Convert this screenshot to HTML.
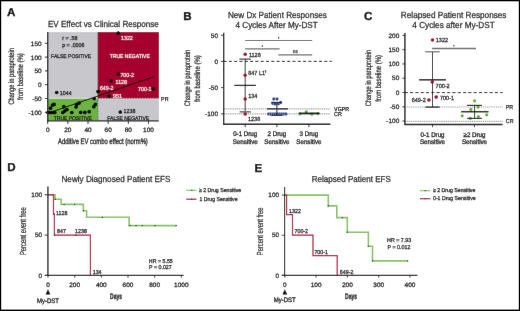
<!DOCTYPE html>
<html><head><meta charset="utf-8"><style>
html,body{margin:0;padding:0;background:#fff;width:520px;height:311px;overflow:hidden}
svg{display:block}
#w{will-change:transform}
text{font-family:"Liberation Sans", sans-serif;text-rendering:geometricPrecision}
</style></head><body>
<div id="w"><svg width="520" height="311" viewBox="0 0 520 311">
<defs><filter id="bl" x="0" y="0" width="520" height="311" filterUnits="userSpaceOnUse"><feConvolveMatrix order="3" kernelMatrix="0.0019 0.0439 0.0019 0.0439 1 0.0439 0.0019 0.0439 0.0019" edgeMode="duplicate" preserveAlpha="true"/></filter></defs>
<g filter="url(#bl)">
<rect x="0" y="0" width="520" height="311" fill="#fff"/>
<rect x="48.00" y="32.10" width="50.10" height="66.30" fill="#c8c8cc"/>
<rect x="98.10" y="32.10" width="60.80" height="66.30" fill="#a6002e"/>
<rect x="48.00" y="98.40" width="50.10" height="21.80" fill="#6cb443"/>
<rect x="98.10" y="98.40" width="60.80" height="21.80" fill="#c8c8cc"/>
<line x1="48.00" y1="98.40" x2="98.10" y2="98.40" stroke="#e2e8e8" stroke-width="0.7" stroke-linecap="butt"/>
<line x1="98.10" y1="99.10" x2="158.90" y2="99.10" stroke="#dde3e3" stroke-width="0.5" stroke-linecap="butt"/>
<line x1="98.10" y1="32.10" x2="98.10" y2="98.40" stroke="#5a0c1c" stroke-width="0.7" stroke-linecap="butt"/>
<line x1="98.10" y1="98.40" x2="98.10" y2="120.20" stroke="#333" stroke-width="0.6" stroke-linecap="butt" stroke-dasharray="0.8,0.8"/>
<line x1="98.10" y1="98.40" x2="158.90" y2="98.40" stroke="#3a0a14" stroke-width="0.6" stroke-linecap="butt" stroke-dasharray="0.8,0.8"/>
<line x1="47.50" y1="113.40" x2="153.40" y2="76.90" stroke="#000" stroke-width="0.9" stroke-linecap="butt"/>
<circle cx="118.20" cy="33.10" r="1.85" fill="#000"/>
<circle cx="118.30" cy="74.00" r="1.85" fill="#000"/>
<circle cx="111.20" cy="80.90" r="1.85" fill="#000"/>
<circle cx="98.00" cy="91.60" r="1.85" fill="#000"/>
<circle cx="109.10" cy="96.10" r="1.85" fill="#000"/>
<circle cx="153.40" cy="89.00" r="1.85" fill="#000"/>
<circle cx="56.70" cy="92.50" r="1.85" fill="#000"/>
<circle cx="120.30" cy="112.00" r="1.85" fill="#000"/>
<circle cx="47.80" cy="112.50" r="1.85" fill="#000"/>
<circle cx="49.60" cy="112.50" r="1.85" fill="#000"/>
<circle cx="51.40" cy="112.50" r="1.85" fill="#000"/>
<circle cx="53.20" cy="112.50" r="1.85" fill="#000"/>
<circle cx="54.80" cy="112.50" r="1.85" fill="#000"/>
<circle cx="50.50" cy="108.20" r="1.85" fill="#000"/>
<circle cx="52.50" cy="105.10" r="1.85" fill="#000"/>
<circle cx="54.10" cy="104.40" r="1.85" fill="#000"/>
<circle cx="63.80" cy="106.70" r="1.85" fill="#000"/>
<circle cx="67.00" cy="109.60" r="1.85" fill="#000"/>
<circle cx="62.80" cy="112.50" r="1.85" fill="#000"/>
<circle cx="64.60" cy="111.10" r="1.85" fill="#000"/>
<circle cx="71.80" cy="112.50" r="1.85" fill="#000"/>
<circle cx="76.00" cy="107.00" r="1.85" fill="#000"/>
<circle cx="76.70" cy="104.40" r="1.85" fill="#000"/>
<circle cx="79.20" cy="103.10" r="1.85" fill="#000"/>
<circle cx="80.70" cy="112.40" r="1.85" fill="#000"/>
<circle cx="84.80" cy="112.40" r="1.85" fill="#000"/>
<circle cx="89.20" cy="111.70" r="1.85" fill="#000"/>
<circle cx="94.20" cy="98.50" r="1.85" fill="#000"/>
<circle cx="95.40" cy="104.40" r="1.85" fill="#000"/>
<circle cx="93.80" cy="106.70" r="1.85" fill="#000"/>
<line x1="47.70" y1="32.00" x2="47.70" y2="121.40" stroke="#262626" stroke-width="1.4" stroke-linecap="butt"/>
<line x1="46.90" y1="120.80" x2="158.80" y2="120.80" stroke="#222" stroke-width="1.3" stroke-linecap="butt"/>
<line x1="44.90" y1="43.30" x2="47.40" y2="43.30" stroke="#262626" stroke-width="1.0" stroke-linecap="butt"/>
<text transform="translate(41.60,45.70) scale(1.1,1.08)" font-size="5.9" text-anchor="end" fill="#231f20" font-weight="normal"  stroke="#231f20" stroke-width="0.280">150</text>
<line x1="44.90" y1="57.10" x2="47.40" y2="57.10" stroke="#262626" stroke-width="1.0" stroke-linecap="butt"/>
<text transform="translate(41.60,59.50) scale(1.1,1.08)" font-size="5.9" text-anchor="end" fill="#231f20" font-weight="normal"  stroke="#231f20" stroke-width="0.280">100</text>
<line x1="44.90" y1="70.90" x2="47.40" y2="70.90" stroke="#262626" stroke-width="1.0" stroke-linecap="butt"/>
<text transform="translate(41.60,73.30) scale(1.1,1.08)" font-size="5.9" text-anchor="end" fill="#231f20" font-weight="normal"  stroke="#231f20" stroke-width="0.280">50</text>
<line x1="44.90" y1="84.70" x2="47.40" y2="84.70" stroke="#262626" stroke-width="1.0" stroke-linecap="butt"/>
<text transform="translate(41.60,87.10) scale(1.1,1.08)" font-size="5.9" text-anchor="end" fill="#231f20" font-weight="normal"  stroke="#231f20" stroke-width="0.280">0</text>
<line x1="44.90" y1="98.50" x2="47.40" y2="98.50" stroke="#262626" stroke-width="1.0" stroke-linecap="butt"/>
<text transform="translate(41.60,100.90) scale(1.1,1.08)" font-size="5.9" text-anchor="end" fill="#231f20" font-weight="normal"  stroke="#231f20" stroke-width="0.280">-50</text>
<line x1="44.90" y1="112.30" x2="47.40" y2="112.30" stroke="#262626" stroke-width="1.0" stroke-linecap="butt"/>
<text transform="translate(41.60,114.70) scale(1.1,1.08)" font-size="5.9" text-anchor="end" fill="#231f20" font-weight="normal"  stroke="#231f20" stroke-width="0.280">-100</text>
<line x1="47.70" y1="120.80" x2="47.70" y2="123.90" stroke="#222" stroke-width="1.0" stroke-linecap="butt"/>
<text transform="translate(47.70,132.30) scale(1.1,1.08)" font-size="5.9" text-anchor="middle" fill="#231f20" font-weight="normal"  stroke="#231f20" stroke-width="0.280">0</text>
<line x1="67.86" y1="120.80" x2="67.86" y2="123.90" stroke="#222" stroke-width="1.0" stroke-linecap="butt"/>
<text transform="translate(67.86,132.30) scale(1.1,1.08)" font-size="5.9" text-anchor="middle" fill="#231f20" font-weight="normal"  stroke="#231f20" stroke-width="0.280">20</text>
<line x1="88.02" y1="120.80" x2="88.02" y2="123.90" stroke="#222" stroke-width="1.0" stroke-linecap="butt"/>
<text transform="translate(88.02,132.30) scale(1.1,1.08)" font-size="5.9" text-anchor="middle" fill="#231f20" font-weight="normal"  stroke="#231f20" stroke-width="0.280">40</text>
<line x1="108.18" y1="120.80" x2="108.18" y2="123.90" stroke="#222" stroke-width="1.0" stroke-linecap="butt"/>
<text transform="translate(108.18,132.30) scale(1.1,1.08)" font-size="5.9" text-anchor="middle" fill="#231f20" font-weight="normal"  stroke="#231f20" stroke-width="0.280">60</text>
<line x1="128.34" y1="120.80" x2="128.34" y2="123.90" stroke="#222" stroke-width="1.0" stroke-linecap="butt"/>
<text transform="translate(128.34,132.30) scale(1.1,1.08)" font-size="5.9" text-anchor="middle" fill="#231f20" font-weight="normal"  stroke="#231f20" stroke-width="0.280">80</text>
<line x1="148.50" y1="120.80" x2="148.50" y2="123.90" stroke="#222" stroke-width="1.0" stroke-linecap="butt"/>
<text transform="translate(148.50,132.30) scale(1.1,1.08)" font-size="5.9" text-anchor="middle" fill="#231f20" font-weight="normal"  stroke="#231f20" stroke-width="0.280">100</text>
<text transform="translate(102.90,143.60) scale(0.785,1.08)" font-size="7.5" text-anchor="middle" fill="#231f20" font-weight="normal" stroke="#231f20" stroke-width="0.35">Additive EV combo effect (norm%)</text>
<text transform="translate(13.80,76.35) rotate(-90) scale(0.714,1.0)" font-size="8.0" text-anchor="middle" fill="#231f20" font-weight="normal" stroke="#231f20" stroke-width="0.25">Change in paraprotein</text>
<text transform="translate(23.00,76.55) rotate(-90) scale(0.747,1.0)" font-size="8.0" text-anchor="middle" fill="#231f20" font-weight="normal" stroke="#231f20" stroke-width="0.25">from baseline (%)</text>
<text transform="translate(47.90,27.00) scale(1.0,1.08)" font-size="8.1" text-anchor="start" fill="#231f20" font-weight="normal"  stroke="#231f20" stroke-width="0.250">EV Effect vs Clinical Response</text>
<text transform="translate(6.90,16.40) scale(1.0,1.0)" font-size="11.6" text-anchor="start" fill="#000" font-weight="bold" stroke="#000" stroke-width="0.3">A</text>
<text transform="translate(62.20,39.90) scale(1.0,1.08)" font-size="5.3" text-anchor="start" fill="#231f20" font-weight="normal"  stroke="#231f20" stroke-width="0.280">r = .58</text>
<text transform="translate(62.20,46.50) scale(1.0,1.08)" font-size="5.3" text-anchor="start" fill="#231f20" font-weight="normal"  stroke="#231f20" stroke-width="0.280">p = .0006</text>
<text transform="translate(71.10,57.60) scale(1.0,1.08)" font-size="5.0" text-anchor="middle" fill="#231f20" font-weight="normal"  stroke="#231f20" stroke-width="0.280">FALSE POSITIVE</text>
<text transform="translate(129.80,57.70) scale(1.0,1.08)" font-size="5.0" text-anchor="middle" fill="#fff" font-weight="normal"  stroke="#fff" stroke-width="0.180">TRUE NEGATIVE</text>
<text transform="translate(72.80,119.90) scale(1.0,1.08)" font-size="5.0" text-anchor="middle" fill="#231f20" font-weight="normal"  stroke="#231f20" stroke-width="0.280">TRUE POSITIVE</text>
<text transform="translate(128.20,119.90) scale(1.0,1.08)" font-size="5.0" text-anchor="middle" fill="#231f20" font-weight="normal"  stroke="#231f20" stroke-width="0.280">FALSE NEGATIVE</text>
<text transform="translate(161.10,100.90) scale(1.0,1.08)" font-size="5.3" text-anchor="start" fill="#231f20" font-weight="normal"  stroke="#231f20" stroke-width="0.280">PR</text>
<text transform="translate(121.00,39.60) scale(1.0,1.08)" font-size="5.3" text-anchor="start" fill="#fff" font-weight="normal"  stroke="#fff" stroke-width="0.180">1322</text>
<text transform="translate(120.40,76.50) scale(1.0,1.08)" font-size="5.3" text-anchor="start" fill="#fff" font-weight="normal"  stroke="#fff" stroke-width="0.180">700-2</text>
<text transform="translate(115.60,83.80) scale(1.0,1.08)" font-size="5.3" text-anchor="start" fill="#fff" font-weight="normal"  stroke="#fff" stroke-width="0.180">1128</text>
<text transform="translate(99.90,90.00) scale(1.0,1.08)" font-size="5.3" text-anchor="start" fill="#fff" font-weight="normal"  stroke="#fff" stroke-width="0.180">649-2</text>
<text transform="translate(113.00,98.30) scale(1.0,1.08)" font-size="5.3" text-anchor="start" fill="#fff" font-weight="normal"  stroke="#fff" stroke-width="0.180">951</text>
<text transform="translate(138.00,91.30) scale(1.0,1.08)" font-size="5.3" text-anchor="start" fill="#fff" font-weight="normal"  stroke="#fff" stroke-width="0.180">700-1</text>
<text transform="translate(59.80,95.30) scale(1.0,1.08)" font-size="5.3" text-anchor="start" fill="#231f20" font-weight="normal"  stroke="#231f20" stroke-width="0.280">1044</text>
<text transform="translate(123.60,113.30) scale(1.0,1.08)" font-size="5.3" text-anchor="start" fill="#231f20" font-weight="normal"  stroke="#231f20" stroke-width="0.280">1238</text>
<text transform="translate(183.30,20.00) scale(1.0,1.0)" font-size="11.6" text-anchor="start" fill="#000" font-weight="bold" stroke="#000" stroke-width="0.3">B</text>
<text transform="translate(277.35,17.60) scale(1.0,1.08)" font-size="8.15" text-anchor="middle" fill="#231f20" font-weight="normal"  stroke="#231f20" stroke-width="0.250">New Dx Patient Responses</text>
<text transform="translate(276.60,27.50) scale(1.0,1.08)" font-size="8.15" text-anchor="middle" fill="#231f20" font-weight="normal"  stroke="#231f20" stroke-width="0.250">4 Cycles After My-DST</text>
<text transform="translate(189.80,78.00) rotate(-90) scale(0.714,1.0)" font-size="8.0" text-anchor="middle" fill="#231f20" font-weight="normal" stroke="#231f20" stroke-width="0.25">Change in paraprotein</text>
<text transform="translate(199.80,78.70) rotate(-90) scale(0.747,1.0)" font-size="8.0" text-anchor="middle" fill="#231f20" font-weight="normal" stroke="#231f20" stroke-width="0.25">from baseline (%)</text>
<line x1="224.00" y1="108.90" x2="330.20" y2="108.90" stroke="#a0a0a0" stroke-width="1.1" stroke-linecap="butt" stroke-dasharray="1.1,0.75"/>
<line x1="224.00" y1="113.90" x2="330.20" y2="113.90" stroke="#a0a0a0" stroke-width="1.1" stroke-linecap="butt" stroke-dasharray="1.1,0.75"/>
<line x1="223.60" y1="61.35" x2="331.80" y2="61.35" stroke="#111" stroke-width="1.0" stroke-linecap="butt" stroke-dasharray="3.0,2.3"/>
<text transform="translate(334.10,110.70) scale(1.0,1.08)" font-size="5.3" text-anchor="start" fill="#231f20" font-weight="normal"  stroke="#231f20" stroke-width="0.280">VGPR</text>
<text transform="translate(334.10,116.10) scale(1.0,1.08)" font-size="5.3" text-anchor="start" fill="#231f20" font-weight="normal"  stroke="#231f20" stroke-width="0.280">CR</text>
<line x1="245.10" y1="40.50" x2="312.20" y2="40.50" stroke="#6d6e71" stroke-width="1.2" stroke-linecap="butt"/>
<line x1="245.10" y1="48.80" x2="279.60" y2="48.80" stroke="#6d6e71" stroke-width="1.2" stroke-linecap="butt"/>
<line x1="278.30" y1="54.90" x2="312.20" y2="54.90" stroke="#6d6e71" stroke-width="1.2" stroke-linecap="butt"/>
<circle cx="278.65" cy="37.90" r="0.8" fill="#333"/>
<circle cx="262.40" cy="46.10" r="0.8" fill="#333"/>
<text transform="translate(295.40,52.60) scale(1.0,1.08)" font-size="4.8" text-anchor="middle" fill="#444" font-weight="normal"  stroke="#444" stroke-width="0.280">ns</text>
<line x1="245.20" y1="59.10" x2="245.20" y2="111.60" stroke="#262626" stroke-width="0.9" stroke-linecap="butt"/>
<line x1="239.40" y1="59.10" x2="250.80" y2="59.10" stroke="#262626" stroke-width="1.1" stroke-linecap="butt"/>
<line x1="234.30" y1="85.40" x2="255.90" y2="85.40" stroke="#111" stroke-width="1.3" stroke-linecap="butt"/>
<line x1="239.60" y1="111.85" x2="250.80" y2="111.85" stroke="#6a6a6a" stroke-width="1.5" stroke-linecap="butt"/>
<circle cx="245.20" cy="54.20" r="1.8" fill="#9e0a26"/>
<circle cx="245.20" cy="75.20" r="1.8" fill="#9e0a26"/>
<circle cx="245.20" cy="99.00" r="1.8" fill="#9e0a26"/>
<circle cx="245.20" cy="114.00" r="1.8" fill="#9e0a26"/>
<text transform="translate(248.90,56.90) scale(1.0,1.08)" font-size="5.5" text-anchor="start" fill="#231f20" font-weight="normal"  stroke="#231f20" stroke-width="0.280">1128</text>
<text transform="translate(248.20,75.00) scale(1.0,1.08)" font-size="5.5" text-anchor="start" fill="#231f20" font-weight="normal"  stroke="#231f20" stroke-width="0.280">847 L1</text>
<text transform="translate(264.40,72.60) scale(1.0,1.08)" font-size="3.6" text-anchor="start" fill="#231f20" font-weight="normal"  stroke="#231f20" stroke-width="0.280">†</text>
<text transform="translate(248.20,98.00) scale(1.0,1.08)" font-size="5.5" text-anchor="start" fill="#231f20" font-weight="normal"  stroke="#231f20" stroke-width="0.280">134</text>
<text transform="translate(248.00,121.00) scale(1.0,1.08)" font-size="5.5" text-anchor="start" fill="#231f20" font-weight="normal"  stroke="#231f20" stroke-width="0.280">1238</text>
<circle cx="268.60" cy="113.90" r="1.75" fill="#1a3f8f" stroke="#fff" stroke-width="0.35"/>
<circle cx="270.80" cy="113.90" r="1.75" fill="#1a3f8f" stroke="#fff" stroke-width="0.35"/>
<circle cx="273.00" cy="113.90" r="1.75" fill="#1a3f8f" stroke="#fff" stroke-width="0.35"/>
<circle cx="275.10" cy="113.90" r="1.75" fill="#1a3f8f" stroke="#fff" stroke-width="0.35"/>
<circle cx="277.30" cy="113.90" r="1.75" fill="#1a3f8f" stroke="#fff" stroke-width="0.35"/>
<circle cx="279.50" cy="113.90" r="1.75" fill="#1a3f8f" stroke="#fff" stroke-width="0.35"/>
<circle cx="281.60" cy="113.90" r="1.75" fill="#1a3f8f" stroke="#fff" stroke-width="0.35"/>
<circle cx="283.80" cy="113.90" r="1.75" fill="#1a3f8f" stroke="#fff" stroke-width="0.35"/>
<circle cx="285.90" cy="113.90" r="1.75" fill="#1a3f8f" stroke="#fff" stroke-width="0.35"/>
<circle cx="273.80" cy="99.00" r="1.75" fill="#1a3f8f" stroke="#fff" stroke-width="0.35"/>
<circle cx="277.00" cy="99.00" r="1.75" fill="#1a3f8f" stroke="#fff" stroke-width="0.35"/>
<circle cx="272.90" cy="103.40" r="1.75" fill="#1a3f8f" stroke="#fff" stroke-width="0.35"/>
<circle cx="275.10" cy="104.00" r="1.75" fill="#1a3f8f" stroke="#fff" stroke-width="0.35"/>
<circle cx="278.50" cy="103.80" r="1.75" fill="#1a3f8f" stroke="#fff" stroke-width="0.35"/>
<circle cx="280.60" cy="102.60" r="1.75" fill="#1a3f8f" stroke="#fff" stroke-width="0.35"/>
<line x1="276.90" y1="102.40" x2="276.90" y2="115.40" stroke="#222" stroke-width="1.0" stroke-linecap="butt"/>
<line x1="271.20" y1="115.40" x2="282.60" y2="115.40" stroke="#111" stroke-width="1.0" stroke-linecap="butt"/>
<line x1="271.20" y1="102.40" x2="282.00" y2="102.40" stroke="#111" stroke-width="1.1" stroke-linecap="butt"/>
<line x1="267.00" y1="108.80" x2="287.90" y2="108.80" stroke="#3c3c3c" stroke-width="1.6" stroke-linecap="butt"/>
<circle cx="299.90" cy="113.90" r="1.6" fill="#5cb531"/>
<circle cx="306.20" cy="111.90" r="1.6" fill="#5cb531"/>
<circle cx="311.90" cy="114.20" r="1.6" fill="#5cb531"/>
<circle cx="317.90" cy="113.60" r="1.6" fill="#5cb531"/>
<line x1="299.00" y1="113.40" x2="319.50" y2="113.40" stroke="#111" stroke-width="1.7" stroke-linecap="butt"/>
<line x1="223.70" y1="32.80" x2="223.70" y2="124.90" stroke="#1a1a1a" stroke-width="1.3" stroke-linecap="butt"/>
<line x1="223.10" y1="124.30" x2="330.40" y2="124.30" stroke="#111" stroke-width="1.4" stroke-linecap="butt"/>
<line x1="221.00" y1="35.21" x2="223.60" y2="35.21" stroke="#231f20" stroke-width="0.9" stroke-linecap="butt"/>
<text transform="translate(218.00,37.61) scale(1.1,1.08)" font-size="5.9" text-anchor="end" fill="#231f20" font-weight="normal"  stroke="#231f20" stroke-width="0.280">50</text>
<line x1="221.00" y1="61.42" x2="223.60" y2="61.42" stroke="#231f20" stroke-width="0.9" stroke-linecap="butt"/>
<text transform="translate(218.00,63.82) scale(1.1,1.08)" font-size="5.9" text-anchor="end" fill="#231f20" font-weight="normal"  stroke="#231f20" stroke-width="0.280">0</text>
<line x1="221.00" y1="87.63" x2="223.60" y2="87.63" stroke="#231f20" stroke-width="0.9" stroke-linecap="butt"/>
<text transform="translate(218.00,90.03) scale(1.1,1.08)" font-size="5.9" text-anchor="end" fill="#231f20" font-weight="normal"  stroke="#231f20" stroke-width="0.280">-50</text>
<line x1="221.00" y1="113.84" x2="223.60" y2="113.84" stroke="#231f20" stroke-width="0.9" stroke-linecap="butt"/>
<text transform="translate(218.00,116.24) scale(1.1,1.08)" font-size="5.9" text-anchor="end" fill="#231f20" font-weight="normal"  stroke="#231f20" stroke-width="0.280">-100</text>
<line x1="245.20" y1="124.20" x2="245.20" y2="127.20" stroke="#231f20" stroke-width="0.9" stroke-linecap="butt"/>
<text transform="translate(245.20,136.40) scale(1.0,1.08)" font-size="6.2" text-anchor="middle" fill="#231f20" font-weight="normal"  stroke="#231f20" stroke-width="0.320">0-1 Drug</text>
<text transform="translate(245.20,144.00) scale(1.0,1.08)" font-size="6.2" text-anchor="middle" fill="#231f20" font-weight="normal"  stroke="#231f20" stroke-width="0.320">Sensitive</text>
<line x1="276.90" y1="124.20" x2="276.90" y2="127.20" stroke="#231f20" stroke-width="0.9" stroke-linecap="butt"/>
<text transform="translate(276.90,136.40) scale(1.0,1.08)" font-size="6.2" text-anchor="middle" fill="#231f20" font-weight="normal"  stroke="#231f20" stroke-width="0.320">2 Drug</text>
<text transform="translate(276.90,144.00) scale(1.0,1.08)" font-size="6.2" text-anchor="middle" fill="#231f20" font-weight="normal"  stroke="#231f20" stroke-width="0.320">Sensitive</text>
<line x1="308.90" y1="124.20" x2="308.90" y2="127.20" stroke="#231f20" stroke-width="0.9" stroke-linecap="butt"/>
<text transform="translate(308.90,136.40) scale(1.0,1.08)" font-size="6.2" text-anchor="middle" fill="#231f20" font-weight="normal"  stroke="#231f20" stroke-width="0.320">3 Drug</text>
<text transform="translate(308.90,144.00) scale(1.0,1.08)" font-size="6.2" text-anchor="middle" fill="#231f20" font-weight="normal"  stroke="#231f20" stroke-width="0.320">Sensitive</text>
<text transform="translate(364.00,20.00) scale(1.0,1.0)" font-size="11.6" text-anchor="start" fill="#000" font-weight="bold" stroke="#000" stroke-width="0.3">C</text>
<text transform="translate(453.65,17.60) scale(1.0,1.08)" font-size="8.2" text-anchor="middle" fill="#231f20" font-weight="normal"  stroke="#231f20" stroke-width="0.250">Relapsed Patient Responses</text>
<text transform="translate(453.50,27.80) scale(1.0,1.08)" font-size="8.2" text-anchor="middle" fill="#231f20" font-weight="normal"  stroke="#231f20" stroke-width="0.250">4 Cycles after My-DST</text>
<text transform="translate(370.55,78.10) rotate(-90) scale(0.714,1.0)" font-size="8.0" text-anchor="middle" fill="#231f20" font-weight="normal" stroke="#231f20" stroke-width="0.25">Change in paraprotein</text>
<text transform="translate(380.60,78.40) rotate(-90) scale(0.747,1.0)" font-size="8.0" text-anchor="middle" fill="#231f20" font-weight="normal" stroke="#231f20" stroke-width="0.25">from baseline (%)</text>
<line x1="405.30" y1="107.00" x2="502.90" y2="107.00" stroke="#a0a0a0" stroke-width="1.1" stroke-linecap="butt" stroke-dasharray="1.1,0.75"/>
<line x1="405.30" y1="121.40" x2="502.90" y2="121.40" stroke="#a0a0a0" stroke-width="1.1" stroke-linecap="butt" stroke-dasharray="1.1,0.75"/>
<line x1="404.80" y1="92.60" x2="502.70" y2="92.60" stroke="#111" stroke-width="1.0" stroke-linecap="butt" stroke-dasharray="3.0,2.3"/>
<text transform="translate(505.80,109.00) scale(1.0,1.08)" font-size="5.3" text-anchor="start" fill="#231f20" font-weight="normal"  stroke="#231f20" stroke-width="0.280">PR</text>
<text transform="translate(505.80,123.40) scale(1.0,1.08)" font-size="5.3" text-anchor="start" fill="#231f20" font-weight="normal"  stroke="#231f20" stroke-width="0.280">CR</text>
<line x1="432.10" y1="48.50" x2="476.00" y2="48.50" stroke="#6d6e71" stroke-width="1.3" stroke-linecap="butt"/>
<circle cx="453.80" cy="45.70" r="0.8" fill="#333"/>
<line x1="432.50" y1="51.80" x2="432.50" y2="107.10" stroke="#111" stroke-width="0.9" stroke-linecap="butt"/>
<line x1="425.20" y1="51.80" x2="439.80" y2="51.80" stroke="#666" stroke-width="1.2" stroke-linecap="butt"/>
<line x1="419.10" y1="79.80" x2="446.00" y2="79.80" stroke="#222" stroke-width="1.5" stroke-linecap="butt"/>
<line x1="425.50" y1="107.10" x2="439.60" y2="107.10" stroke="#111" stroke-width="1.2" stroke-linecap="butt"/>
<circle cx="432.50" cy="40.00" r="1.8" fill="#9e0a26"/>
<circle cx="432.30" cy="81.90" r="1.8" fill="#9e0a26"/>
<circle cx="436.20" cy="97.10" r="1.8" fill="#9e0a26"/>
<circle cx="428.90" cy="100.00" r="1.8" fill="#9e0a26"/>
<text transform="translate(435.80,41.90) scale(1.0,1.08)" font-size="5.5" text-anchor="start" fill="#231f20" font-weight="normal"  stroke="#231f20" stroke-width="0.280">1322</text>
<text transform="translate(435.60,88.10) scale(1.0,1.08)" font-size="5.5" text-anchor="start" fill="#231f20" font-weight="normal"  stroke="#231f20" stroke-width="0.280">700-2</text>
<text transform="translate(440.00,99.80) scale(1.0,1.08)" font-size="5.5" text-anchor="start" fill="#231f20" font-weight="normal"  stroke="#231f20" stroke-width="0.280">700-1</text>
<text transform="translate(425.80,102.10) scale(1.0,1.08)" font-size="5.5" text-anchor="end" fill="#231f20" font-weight="normal"  stroke="#231f20" stroke-width="0.280">649-2</text>
<circle cx="474.60" cy="100.80" r="1.6" fill="#5cb531"/>
<circle cx="478.10" cy="107.10" r="1.6" fill="#5cb531"/>
<circle cx="470.90" cy="109.40" r="1.6" fill="#5cb531"/>
<circle cx="462.20" cy="115.80" r="1.6" fill="#5cb531"/>
<circle cx="486.70" cy="114.80" r="1.6" fill="#5cb531"/>
<circle cx="478.40" cy="116.60" r="1.6" fill="#5cb531"/>
<circle cx="470.30" cy="118.40" r="1.6" fill="#5cb531"/>
<line x1="474.60" y1="105.40" x2="474.60" y2="118.40" stroke="#111" stroke-width="0.9" stroke-linecap="butt"/>
<line x1="467.10" y1="105.40" x2="481.90" y2="105.40" stroke="#222" stroke-width="1.2" stroke-linecap="butt"/>
<line x1="461.00" y1="111.70" x2="488.50" y2="111.70" stroke="#222" stroke-width="1.5" stroke-linecap="butt"/>
<line x1="467.10" y1="118.40" x2="481.90" y2="118.40" stroke="#222" stroke-width="1.2" stroke-linecap="butt"/>
<line x1="404.90" y1="33.10" x2="404.90" y2="125.10" stroke="#111" stroke-width="1.35" stroke-linecap="butt"/>
<line x1="404.30" y1="124.50" x2="502.50" y2="124.50" stroke="#111" stroke-width="1.4" stroke-linecap="butt"/>
<line x1="402.40" y1="35.40" x2="404.80" y2="35.40" stroke="#231f20" stroke-width="0.9" stroke-linecap="butt"/>
<text transform="translate(399.30,37.50) scale(1.1,1.08)" font-size="5.9" text-anchor="end" fill="#231f20" font-weight="normal"  stroke="#231f20" stroke-width="0.280">200</text>
<line x1="402.40" y1="49.68" x2="404.80" y2="49.68" stroke="#231f20" stroke-width="0.9" stroke-linecap="butt"/>
<text transform="translate(399.30,51.78) scale(1.1,1.08)" font-size="5.9" text-anchor="end" fill="#231f20" font-weight="normal"  stroke="#231f20" stroke-width="0.280">150</text>
<line x1="402.40" y1="63.95" x2="404.80" y2="63.95" stroke="#231f20" stroke-width="0.9" stroke-linecap="butt"/>
<text transform="translate(399.30,66.05) scale(1.1,1.08)" font-size="5.9" text-anchor="end" fill="#231f20" font-weight="normal"  stroke="#231f20" stroke-width="0.280">100</text>
<line x1="402.40" y1="78.22" x2="404.80" y2="78.22" stroke="#231f20" stroke-width="0.9" stroke-linecap="butt"/>
<text transform="translate(399.30,80.32) scale(1.1,1.08)" font-size="5.9" text-anchor="end" fill="#231f20" font-weight="normal"  stroke="#231f20" stroke-width="0.280">50</text>
<line x1="402.40" y1="92.50" x2="404.80" y2="92.50" stroke="#231f20" stroke-width="0.9" stroke-linecap="butt"/>
<text transform="translate(399.30,94.60) scale(1.1,1.08)" font-size="5.9" text-anchor="end" fill="#231f20" font-weight="normal"  stroke="#231f20" stroke-width="0.280">0</text>
<line x1="402.40" y1="106.78" x2="404.80" y2="106.78" stroke="#231f20" stroke-width="0.9" stroke-linecap="butt"/>
<text transform="translate(399.30,108.88) scale(1.1,1.08)" font-size="5.9" text-anchor="end" fill="#231f20" font-weight="normal"  stroke="#231f20" stroke-width="0.280">-50</text>
<line x1="402.40" y1="121.05" x2="404.80" y2="121.05" stroke="#231f20" stroke-width="0.9" stroke-linecap="butt"/>
<text transform="translate(399.30,123.15) scale(1.1,1.08)" font-size="5.9" text-anchor="end" fill="#231f20" font-weight="normal"  stroke="#231f20" stroke-width="0.280">-100</text>
<line x1="432.50" y1="124.50" x2="432.50" y2="127.20" stroke="#231f20" stroke-width="0.9" stroke-linecap="butt"/>
<text transform="translate(432.50,136.80) scale(1.0,1.08)" font-size="6.2" text-anchor="middle" fill="#231f20" font-weight="normal"  stroke="#231f20" stroke-width="0.320">0-1 Drug</text>
<text transform="translate(432.50,144.00) scale(1.0,1.08)" font-size="6.2" text-anchor="middle" fill="#231f20" font-weight="normal"  stroke="#231f20" stroke-width="0.320">Sensitive</text>
<line x1="474.50" y1="124.50" x2="474.50" y2="127.20" stroke="#231f20" stroke-width="0.9" stroke-linecap="butt"/>
<text transform="translate(474.50,136.80) scale(1.0,1.08)" font-size="6.2" text-anchor="middle" fill="#231f20" font-weight="normal"  stroke="#231f20" stroke-width="0.320">≥2 Drug</text>
<text transform="translate(474.50,144.00) scale(1.0,1.08)" font-size="6.2" text-anchor="middle" fill="#231f20" font-weight="normal"  stroke="#231f20" stroke-width="0.320">Sensitive</text>
<text transform="translate(7.30,171.20) scale(1.0,1.0)" font-size="11.6" text-anchor="start" fill="#000" font-weight="bold" stroke="#000" stroke-width="0.3">D</text>
<text transform="translate(61.50,181.50) scale(1.0,1.08)" font-size="8.15" text-anchor="start" fill="#231f20" font-weight="normal"  stroke="#231f20" stroke-width="0.250">Newly Diagnosed Patient EFS</text>
<text transform="translate(25.60,231.20) rotate(-90) scale(0.73,1.1)" font-size="8.0" text-anchor="middle" fill="#231f20" font-weight="normal" stroke="#231f20" stroke-width="0.25">Percent event free</text>
<polyline points="48.00,194.80 55.00,194.80 55.00,199.30 61.20,199.30 61.20,204.40 83.40,204.40 83.40,210.80 86.60,210.80 86.60,217.30 129.10,217.30 129.10,225.60 176.50,225.60" fill="none" stroke="#86c466" stroke-width="1.6" stroke-linejoin="miter" stroke-linecap="butt"/>
<polyline points="48.00,194.80 53.50,194.80 53.50,214.20 54.40,214.20 54.40,235.10 90.40,235.10 90.40,275.40" fill="none" stroke="#b3143f" stroke-width="1.2" stroke-linejoin="miter" stroke-linecap="butt"/>
<line x1="63.50" y1="204.40" x2="64.70" y2="204.40" stroke="#000" stroke-width="1.0" stroke-linecap="butt"/>
<line x1="73.90" y1="204.40" x2="75.10" y2="204.40" stroke="#000" stroke-width="1.0" stroke-linecap="butt"/>
<line x1="82.80" y1="210.80" x2="84.00" y2="210.80" stroke="#000" stroke-width="1.0" stroke-linecap="butt"/>
<line x1="101.80" y1="217.30" x2="103.00" y2="217.30" stroke="#000" stroke-width="1.0" stroke-linecap="butt"/>
<line x1="129.20" y1="225.60" x2="130.40" y2="225.60" stroke="#000" stroke-width="1.0" stroke-linecap="butt"/>
<line x1="135.40" y1="225.60" x2="136.60" y2="225.60" stroke="#000" stroke-width="1.0" stroke-linecap="butt"/>
<line x1="141.80" y1="225.60" x2="143.00" y2="225.60" stroke="#000" stroke-width="1.0" stroke-linecap="butt"/>
<line x1="154.40" y1="225.60" x2="155.60" y2="225.60" stroke="#000" stroke-width="1.0" stroke-linecap="butt"/>
<line x1="175.60" y1="225.60" x2="176.80" y2="225.60" stroke="#000" stroke-width="1.0" stroke-linecap="butt"/>
<line x1="54.90" y1="199.30" x2="56.10" y2="199.30" stroke="#000" stroke-width="1.0" stroke-linecap="butt"/>
<line x1="53.00" y1="214.20" x2="54.20" y2="214.20" stroke="#000" stroke-width="1.0" stroke-linecap="butt"/>
<line x1="75.50" y1="235.10" x2="76.70" y2="235.10" stroke="#000" stroke-width="1.0" stroke-linecap="butt"/>
<line x1="54.00" y1="235.10" x2="55.20" y2="235.10" stroke="#000" stroke-width="1.0" stroke-linecap="butt"/>
<line x1="47.90" y1="186.50" x2="47.90" y2="275.40" stroke="#3a3a3a" stroke-width="1.5" stroke-linecap="butt"/>
<line x1="45.00" y1="275.40" x2="183.60" y2="275.40" stroke="#231f20" stroke-width="1.2" stroke-linecap="butt"/>
<line x1="44.60" y1="194.80" x2="48.00" y2="194.80" stroke="#231f20" stroke-width="0.9" stroke-linecap="butt"/>
<text transform="translate(42.10,196.90) scale(1.1,1.08)" font-size="5.9" text-anchor="end" fill="#231f20" font-weight="normal"  stroke="#231f20" stroke-width="0.280">100</text>
<line x1="44.60" y1="235.10" x2="48.00" y2="235.10" stroke="#231f20" stroke-width="0.9" stroke-linecap="butt"/>
<text transform="translate(42.10,237.20) scale(1.1,1.08)" font-size="5.9" text-anchor="end" fill="#231f20" font-weight="normal"  stroke="#231f20" stroke-width="0.280">50</text>
<line x1="44.60" y1="275.40" x2="48.00" y2="275.40" stroke="#231f20" stroke-width="0.9" stroke-linecap="butt"/>
<text transform="translate(42.10,277.50) scale(1.1,1.08)" font-size="5.9" text-anchor="end" fill="#231f20" font-weight="normal"  stroke="#231f20" stroke-width="0.280">0</text>
<line x1="48.00" y1="275.40" x2="48.00" y2="277.60" stroke="#231f20" stroke-width="0.9" stroke-linecap="butt"/>
<text transform="translate(48.00,287.40) scale(1.1,1.08)" font-size="5.9" text-anchor="middle" fill="#231f20" font-weight="normal"  stroke="#231f20" stroke-width="0.280">0</text>
<line x1="74.66" y1="275.40" x2="74.66" y2="277.60" stroke="#231f20" stroke-width="0.9" stroke-linecap="butt"/>
<text transform="translate(74.66,287.40) scale(1.1,1.08)" font-size="5.9" text-anchor="middle" fill="#231f20" font-weight="normal"  stroke="#231f20" stroke-width="0.280">200</text>
<line x1="101.32" y1="275.40" x2="101.32" y2="277.60" stroke="#231f20" stroke-width="0.9" stroke-linecap="butt"/>
<text transform="translate(101.32,287.40) scale(1.1,1.08)" font-size="5.9" text-anchor="middle" fill="#231f20" font-weight="normal"  stroke="#231f20" stroke-width="0.280">400</text>
<line x1="127.98" y1="275.40" x2="127.98" y2="277.60" stroke="#231f20" stroke-width="0.9" stroke-linecap="butt"/>
<text transform="translate(127.98,287.40) scale(1.1,1.08)" font-size="5.9" text-anchor="middle" fill="#231f20" font-weight="normal"  stroke="#231f20" stroke-width="0.280">600</text>
<line x1="154.64" y1="275.40" x2="154.64" y2="277.60" stroke="#231f20" stroke-width="0.9" stroke-linecap="butt"/>
<text transform="translate(154.64,287.40) scale(1.1,1.08)" font-size="5.9" text-anchor="middle" fill="#231f20" font-weight="normal"  stroke="#231f20" stroke-width="0.280">800</text>
<line x1="181.30" y1="275.40" x2="181.30" y2="277.60" stroke="#231f20" stroke-width="0.9" stroke-linecap="butt"/>
<text transform="translate(181.30,287.40) scale(1.1,1.08)" font-size="5.9" text-anchor="middle" fill="#231f20" font-weight="normal"  stroke="#231f20" stroke-width="0.280">1000</text>
<text transform="translate(116.10,299.00) scale(0.68,1.08)" font-size="7.4" text-anchor="middle" fill="#231f20" font-weight="bold"  stroke="#231f20" stroke-width="0.320">Days</text>
<path d="M47.95,289.2 L50.3,294.6 L45.6,294.6 Z" fill="#000"/>
<text transform="translate(47.90,302.60) scale(1.0,1.08)" font-size="6.0" text-anchor="middle" fill="#231f20" font-weight="normal"  stroke="#231f20" stroke-width="0.320">My-DST</text>
<text transform="translate(56.00,214.90) scale(1.0,1.08)" font-size="5.3" text-anchor="start" fill="#231f20" font-weight="normal"  stroke="#231f20" stroke-width="0.280">1128</text>
<text transform="translate(57.10,232.90) scale(1.0,1.08)" font-size="5.3" text-anchor="start" fill="#231f20" font-weight="normal"  stroke="#231f20" stroke-width="0.280">847</text>
<text transform="translate(75.10,232.50) scale(1.0,1.08)" font-size="5.3" text-anchor="start" fill="#231f20" font-weight="normal"  stroke="#231f20" stroke-width="0.280">1238</text>
<text transform="translate(92.70,273.60) scale(1.0,1.08)" font-size="5.3" text-anchor="start" fill="#231f20" font-weight="normal"  stroke="#231f20" stroke-width="0.280">134</text>
<text transform="translate(148.80,262.90) scale(1.0,1.08)" font-size="5.3" text-anchor="start" fill="#231f20" font-weight="normal"  stroke="#231f20" stroke-width="0.280">HR = 5.55</text>
<text transform="translate(149.00,269.20) scale(1.0,1.08)" font-size="5.3" text-anchor="start" fill="#231f20" font-weight="normal"  stroke="#231f20" stroke-width="0.280">P = 0.027</text>
<line x1="186.20" y1="190.30" x2="196.50" y2="190.30" stroke="#86c466" stroke-width="1.2" stroke-linecap="butt"/>
<line x1="191.30" y1="190.30" x2="192.30" y2="190.30" stroke="#000" stroke-width="1.0" stroke-linecap="butt"/>
<text transform="translate(198.90,191.90) scale(1.0,1.08)" font-size="5.2" text-anchor="start" fill="#231f20" font-weight="normal"  stroke="#231f20" stroke-width="0.280">≥ 2 Drug Sensitive</text>
<line x1="186.20" y1="199.20" x2="196.50" y2="199.20" stroke="#b3143f" stroke-width="1.2" stroke-linecap="butt"/>
<line x1="191.30" y1="199.20" x2="192.30" y2="199.20" stroke="#000" stroke-width="1.0" stroke-linecap="butt"/>
<text transform="translate(199.50,200.70) scale(1.0,1.08)" font-size="5.2" text-anchor="start" fill="#231f20" font-weight="normal"  stroke="#231f20" stroke-width="0.280">1 Drug Sensitive</text>
<text transform="translate(254.60,171.80) scale(1.0,1.0)" font-size="11.6" text-anchor="start" fill="#000" font-weight="bold" stroke="#000" stroke-width="0.3">E</text>
<text transform="translate(311.70,181.50) scale(1.0,1.08)" font-size="8.05" text-anchor="start" fill="#231f20" font-weight="normal"  stroke="#231f20" stroke-width="0.250">Relapsed Patient EFS</text>
<text transform="translate(262.80,231.40) rotate(-90) scale(0.73,1.1)" font-size="8.0" text-anchor="middle" fill="#231f20" font-weight="normal" stroke="#231f20" stroke-width="0.25">Percent event free</text>
<polyline points="284.60,195.10 328.30,195.10 328.30,205.90 336.80,205.90 336.80,217.60 347.30,217.60 347.30,232.20 368.40,232.20 368.40,246.30 372.50,246.30 372.50,260.90 407.60,260.90" fill="none" stroke="#86c466" stroke-width="1.6" stroke-linejoin="miter" stroke-linecap="butt"/>
<polyline points="284.60,195.10 286.60,195.10 286.60,214.70 292.50,214.70 292.50,235.10 313.00,235.10 313.00,255.60 337.20,255.60 337.20,275.40" fill="none" stroke="#b3143f" stroke-width="1.2" stroke-linejoin="miter" stroke-linecap="butt"/>
<line x1="327.70" y1="205.90" x2="328.90" y2="205.90" stroke="#000" stroke-width="1.0" stroke-linecap="butt"/>
<line x1="341.70" y1="217.60" x2="342.90" y2="217.60" stroke="#000" stroke-width="1.0" stroke-linecap="butt"/>
<line x1="346.70" y1="232.20" x2="347.90" y2="232.20" stroke="#000" stroke-width="1.0" stroke-linecap="butt"/>
<line x1="367.80" y1="246.30" x2="369.00" y2="246.30" stroke="#000" stroke-width="1.0" stroke-linecap="butt"/>
<line x1="371.90" y1="260.90" x2="373.10" y2="260.90" stroke="#000" stroke-width="1.0" stroke-linecap="butt"/>
<line x1="407.00" y1="260.90" x2="408.20" y2="260.90" stroke="#000" stroke-width="1.0" stroke-linecap="butt"/>
<line x1="284.60" y1="186.90" x2="284.60" y2="275.40" stroke="#231f20" stroke-width="1.1" stroke-linecap="butt"/>
<line x1="281.80" y1="275.30" x2="417.40" y2="275.30" stroke="#231f20" stroke-width="1.2" stroke-linecap="butt"/>
<line x1="281.80" y1="195.10" x2="284.60" y2="195.10" stroke="#231f20" stroke-width="0.9" stroke-linecap="butt"/>
<text transform="translate(279.20,197.20) scale(1.1,1.08)" font-size="5.9" text-anchor="end" fill="#231f20" font-weight="normal"  stroke="#231f20" stroke-width="0.280">100</text>
<line x1="281.80" y1="235.25" x2="284.60" y2="235.25" stroke="#231f20" stroke-width="0.9" stroke-linecap="butt"/>
<text transform="translate(279.20,237.35) scale(1.1,1.08)" font-size="5.9" text-anchor="end" fill="#231f20" font-weight="normal"  stroke="#231f20" stroke-width="0.280">50</text>
<line x1="281.80" y1="275.40" x2="284.60" y2="275.40" stroke="#231f20" stroke-width="0.9" stroke-linecap="butt"/>
<text transform="translate(279.20,277.50) scale(1.1,1.08)" font-size="5.9" text-anchor="end" fill="#231f20" font-weight="normal"  stroke="#231f20" stroke-width="0.280">0</text>
<line x1="284.80" y1="275.30" x2="284.80" y2="277.50" stroke="#231f20" stroke-width="0.9" stroke-linecap="butt"/>
<text transform="translate(284.80,287.30) scale(1.1,1.08)" font-size="5.9" text-anchor="middle" fill="#231f20" font-weight="normal"  stroke="#231f20" stroke-width="0.280">0</text>
<line x1="316.10" y1="275.30" x2="316.10" y2="277.50" stroke="#231f20" stroke-width="0.9" stroke-linecap="butt"/>
<text transform="translate(316.10,287.30) scale(1.1,1.08)" font-size="5.9" text-anchor="middle" fill="#231f20" font-weight="normal"  stroke="#231f20" stroke-width="0.280">100</text>
<line x1="347.40" y1="275.30" x2="347.40" y2="277.50" stroke="#231f20" stroke-width="0.9" stroke-linecap="butt"/>
<text transform="translate(347.40,287.30) scale(1.1,1.08)" font-size="5.9" text-anchor="middle" fill="#231f20" font-weight="normal"  stroke="#231f20" stroke-width="0.280">200</text>
<line x1="378.70" y1="275.30" x2="378.70" y2="277.50" stroke="#231f20" stroke-width="0.9" stroke-linecap="butt"/>
<text transform="translate(378.70,287.30) scale(1.1,1.08)" font-size="5.9" text-anchor="middle" fill="#231f20" font-weight="normal"  stroke="#231f20" stroke-width="0.280">300</text>
<line x1="410.00" y1="275.30" x2="410.00" y2="277.50" stroke="#231f20" stroke-width="0.9" stroke-linecap="butt"/>
<text transform="translate(410.00,287.30) scale(1.1,1.08)" font-size="5.9" text-anchor="middle" fill="#231f20" font-weight="normal"  stroke="#231f20" stroke-width="0.280">400</text>
<text transform="translate(351.00,299.00) scale(0.68,1.08)" font-size="7.4" text-anchor="middle" fill="#231f20" font-weight="bold"  stroke="#231f20" stroke-width="0.320">Days</text>
<path d="M284.8,289.2 L287.15,294.6 L282.45,294.6 Z" fill="#000"/>
<text transform="translate(284.70,302.40) scale(1.0,1.08)" font-size="6.0" text-anchor="middle" fill="#231f20" font-weight="normal"  stroke="#231f20" stroke-width="0.320">My-DST</text>
<text transform="translate(289.10,212.50) scale(1.0,1.08)" font-size="5.3" text-anchor="start" fill="#231f20" font-weight="normal"  stroke="#231f20" stroke-width="0.280">1322</text>
<text transform="translate(294.50,233.20) scale(1.0,1.08)" font-size="5.3" text-anchor="start" fill="#231f20" font-weight="normal"  stroke="#231f20" stroke-width="0.280">700-2</text>
<text transform="translate(314.40,253.60) scale(1.0,1.08)" font-size="5.3" text-anchor="start" fill="#231f20" font-weight="normal"  stroke="#231f20" stroke-width="0.280">700-1</text>
<text transform="translate(339.80,273.50) scale(1.0,1.08)" font-size="5.3" text-anchor="start" fill="#231f20" font-weight="normal"  stroke="#231f20" stroke-width="0.280">649-2</text>
<text transform="translate(387.10,242.20) scale(1.0,1.08)" font-size="5.3" text-anchor="start" fill="#231f20" font-weight="normal"  stroke="#231f20" stroke-width="0.280">HR = 7.93</text>
<text transform="translate(387.60,248.80) scale(1.0,1.08)" font-size="5.3" text-anchor="start" fill="#231f20" font-weight="normal"  stroke="#231f20" stroke-width="0.280">P = 0.012</text>
<line x1="420.00" y1="190.70" x2="430.40" y2="190.70" stroke="#86c466" stroke-width="1.2" stroke-linecap="butt"/>
<line x1="424.70" y1="190.70" x2="425.70" y2="190.70" stroke="#000" stroke-width="1.0" stroke-linecap="butt"/>
<text transform="translate(433.00,192.40) scale(1.0,1.08)" font-size="5.2" text-anchor="start" fill="#231f20" font-weight="normal"  stroke="#231f20" stroke-width="0.280">≥ 2 Drug Sensitive</text>
<line x1="420.00" y1="198.70" x2="430.40" y2="198.70" stroke="#b3143f" stroke-width="1.2" stroke-linecap="butt"/>
<line x1="424.70" y1="198.70" x2="425.70" y2="198.70" stroke="#000" stroke-width="1.0" stroke-linecap="butt"/>
<text transform="translate(433.00,200.40) scale(1.0,1.08)" font-size="5.2" text-anchor="start" fill="#231f20" font-weight="normal"  stroke="#231f20" stroke-width="0.280">0-1 Drug Sensitive</text>
</g>
<rect x="0" y="0" width="520" height="1.3" fill="#000"/>
<rect x="0" y="0" width="1.2" height="311" fill="#000"/>
<rect x="518.8" y="0" width="1.2" height="311" fill="#000"/>
<rect x="0" y="309.6" width="520" height="1.4" fill="#000"/>
</svg></div>
</body></html>
